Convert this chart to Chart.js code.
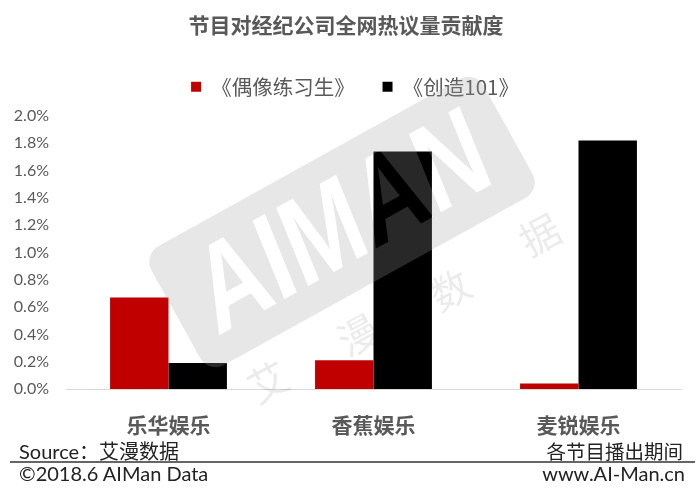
<!DOCTYPE html>
<html>
<head>
<meta charset="utf-8">
<script src="https://cdn.jsdelivr.net/npm/chart.js@4.4.1/dist/chart.umd.min.js"></script>
<style>
  html, body { margin: 0; padding: 0; background: #fff; }
  #wrap { position: relative; width: 700px; height: 496px; overflow: hidden; }
  #grafico { position: absolute; left: 0; top: 0; }
  .note { position: absolute; font-family: Lato, "Noto Sans CJK SC", sans-serif; color: #222; white-space: nowrap; line-height: 24px; font-size: 20px; }
  #linea { position: absolute; left: 10px; top: 461px; width: 685px; border-top: 2px solid #666; }
</style>
</head>
<body>
<div id="wrap">
  <canvas id="grafico" width="700" height="496"></canvas>
  <div class="note" style="left:19px; top:439px;">Source：艾漫数据</div>
  <div class="note" style="right:17px; top:439px; font-size:19.5px; font-family:'Noto Sans CJK SC', sans-serif;">各节目播出期间</div>
  <div id="linea"></div>
  <div class="note" style="left:19px; top:461px;">©2018.6 AIMan Data</div>
  <div class="note" style="right:15px; top:461px;">www.AI-Man.cn</div>
</div>
<script>
// DATI
const titolo = '节目对经纪公司全网热议量贡献度';
const categorie = ['乐华娱乐', '香蕉娱乐', '麦锐娱乐'];
const serieNomi = ['《偶像练习生》', '《创造101》'];
const ouxiang = [0.67, 0.21, 0.04];   // %
const chuangzao = [0.19, 1.74, 1.82]; // %
const yMax = 2.0;
const yStep = 0.2;

const cjk = '"Noto Sans CJK SC", sans-serif';
const grigio = '#595959';

// watermark: banda grigia con lettere trasparenti
const wm = document.createElement('canvas');
wm.width = 700;
wm.height = 496;
(function () {
  const w = wm.getContext('2d');
  w.translate(342, 222);
  w.rotate(-29 * Math.PI / 180);
  w.fillStyle = 'rgb(160,160,160)';
  w.beginPath();
  w.roundRect(-190, -68, 380, 136, 18);
  w.fill();
  w.globalCompositeOperation = 'destination-out';
  w.font = 'bold 122px "Liberation Sans Narrow", sans-serif';
  w.textAlign = 'center';
  w.textBaseline = 'middle';
  const larg = w.measureText('AIMAN').width;
  w.transform(1, 0, -0.12, 1, 0, 0);
  w.scale(320 / larg, 1);
  w.fillText('AIMAN', 0, 6);
})();

const filigrana = {
  id: 'filigrana',
  afterLayout(chart) {
    // legenda leggermente spostata a destra come nell'originale
    chart.legend.left += 9;
    chart.legend.right += 9;
  },
  afterDatasetsDraw(chart) {
    const ctx = chart.ctx;
    ctx.save();
    ctx.globalAlpha = 0.25;
    ctx.drawImage(wm, 0, 0);
    ctx.restore();

    const caratteri = [['艾', 268, 382], ['漫', 358, 335], ['数', 450, 290], ['据', 540, 235]];
    ctx.save();
    ctx.fillStyle = 'rgba(0,0,0,0.08)';
    ctx.font = '40px ' + cjk;
    ctx.textAlign = 'center';
    ctx.textBaseline = 'middle';
    caratteri.forEach(c => {
      ctx.save();
      ctx.translate(c[1], c[2]);
      ctx.rotate(-28 * Math.PI / 180);
      ctx.fillText(c[0], 0, 0);
      ctx.restore();
    });
    ctx.restore();
  }
};

const canvas = document.getElementById('grafico');

new Chart(canvas, {
  type: 'bar',
  data: {
    labels: categorie,
    datasets: [
      {
        label: serieNomi[0],
        data: ouxiang,
        backgroundColor: '#c00000',
        categoryPercentage: 0.57,
        barPercentage: 1
      },
      {
        label: serieNomi[1],
        data: chuangzao,
        backgroundColor: '#000000',
        categoryPercentage: 0.57,
        barPercentage: 1
      }
    ]
  },
  options: {
    responsive: false,
    animation: false,
    devicePixelRatio: 1,
    layout: { padding: { left: 11, right: 19, top: 12.4, bottom: 59 } },
    plugins: {
      title: {
        display: true,
        text: titolo,
        color: grigio,
        font: { family: cjk, size: 21, weight: 'bold' },
        padding: { top: 0, bottom: 20.4 }
      },
      // spaziatore tra legenda e area del grafico
      subtitle: {
        display: true,
        text: '',
        weight: 500,
        font: { size: 1 },
        padding: { top: 0, bottom: 7.8 }
      },
      legend: {
        position: 'top',
        labels: {
          color: grigio,
          font: { family: cjk, size: 20.5 },
          boxWidth: 10,
          boxHeight: 10,
          padding: 18.5,
          generateLabels(chart) {
            const items = Chart.defaults.plugins.legend.labels.generateLabels(chart);
            items.forEach(it => { it.lineWidth = 0; });
            items[0].text = items[0].text + '  ';
            return items;
          }
        }
      },
      tooltip: { enabled: false }
    },
    scales: {
      x: {
        grid: { display: false, drawTicks: false },
        border: { display: true, color: '#d9d9d9', width: 1 },
        ticks: {
          color: grigio,
          font: { family: cjk, size: 21, weight: 'bold' },
          padding: 23
        },
        afterFit(scale) { scale.height = 48; }
      },
      y: {
        min: 0,
        max: yMax,
        grid: { display: false, drawTicks: false },
        border: { display: false },
        ticks: {
          stepSize: yStep,
          color: grigio,
          padding: 17,
          font: { family: 'Lato, sans-serif', size: 16 },
          callback: function (value) { return value.toFixed(1) + '%'; }
        },
        afterFit(scale) { scale.width = 55; }
      }
    }
  },
  plugins: [filigrana]
});
</script>
</body>
</html>
